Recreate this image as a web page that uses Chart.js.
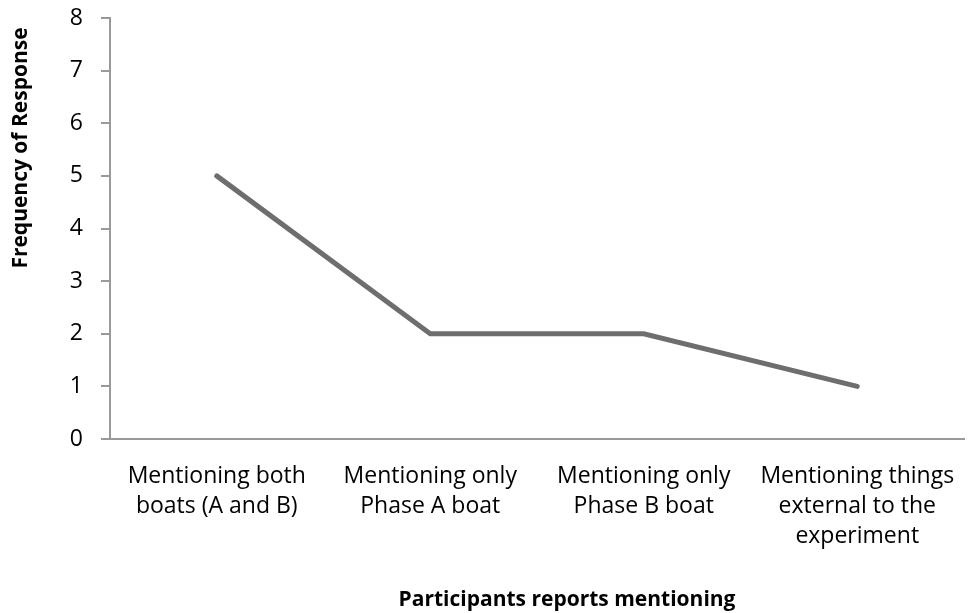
<!DOCTYPE html>
<html>
<head>
<meta charset="utf-8">
<script src="https://cdn.jsdelivr.net/npm/chart.js@4"></script>
<style>
  html, body { margin: 0; padding: 0; background: #fff; }
  #wrap { width: 974px; height: 613px; }
</style>
</head>
<body>
<div id="wrap"><canvas id="freqChart"></canvas></div>
<script>
// chart data
const categories = [
  ["Mentioning both", "boats (A and B)"],
  ["Mentioning only", "Phase A boat"],
  ["Mentioning only", "Phase B boat"],
  ["Mentioning things", "external to the", "experiment"]
];
const frequency = [5, 2, 2, 1];
const yTicks = [0, 1, 2, 3, 4, 5, 6, 7, 8];
const yTitle = "Frequency of Response";
const xTitle = "Participants reports mentioning";

const FONT = "'Open Sans', sans-serif";

// axis titles drawn by hand, they are not centred on the plot in the original
const titlesPlugin = {
  id: "axisTitles",
  afterDraw(chart) {
    const ctx = chart.ctx;
    ctx.save();
    ctx.font = "bold 21px " + FONT;
    ctx.fillStyle = "#000";
    ctx.textAlign = "center";
    ctx.textBaseline = "middle";
    ctx.fillText(xTitle, 567, 600);
    ctx.translate(21, 148);
    ctx.rotate(-Math.PI / 2);
    ctx.fillText(yTitle, 0, 0);
    ctx.restore();
  }
};

const ctx = document.getElementById("freqChart");
new Chart(ctx, {
  type: "line",
  data: {
    labels: categories,
    datasets: [
      {
        label: "Frequency",
        data: frequency,
        borderColor: "#6e6e6e",
        borderWidth: 5,
        pointRadius: 0,
        tension: 0,
        borderCapStyle: "round",
        borderJoinStyle: "miter",
      },
    ],
  },
  options: {
    responsive: true,
    maintainAspectRatio: false,
    animation: false,
    layout: { padding: { top: 18, right: 10, left: 0, bottom: 0 } },
    plugins: {
      legend: { display: false },
      tooltip: { enabled: false },
    },
    scales: {
      x: {
        offset: true,
        grid: { display: false, drawTicks: false },
        border: { display: true, color: "#999", width: 2 },
        ticks: {
          color: "#000",
          padding: 23,
          maxRotation: 0,
          autoSkip: false,
          font: { family: FONT, size: 23, lineHeight: 1.3 },
        },
        afterFit: (scale) => {
          scale.height = 174;
          scale.paddingLeft = 0;
          scale.paddingRight = 0;
        },
      },
      y: {
        min: 0,
        max: 8,
        afterBuildTicks: (scale) => {
          scale.ticks = yTicks.map((v) => ({ value: v }));
        },
        grid: {
          drawOnChartArea: false,
          drawTicks: true,
          tickLength: 9,
          color: "#999",
          lineWidth: 2,
        },
        border: { display: true, color: "#999", width: 2 },
        ticks: {
          color: "#000",
          padding: 18,
          font: { family: FONT, size: 23 },
        },
        afterFit: (scale) => {
          scale.width = 110;
          scale.paddingTop = 0;
          scale.paddingBottom = 0;
        },
      },
    },
  },
  plugins: [titlesPlugin],
});
</script>
</body>
</html>
